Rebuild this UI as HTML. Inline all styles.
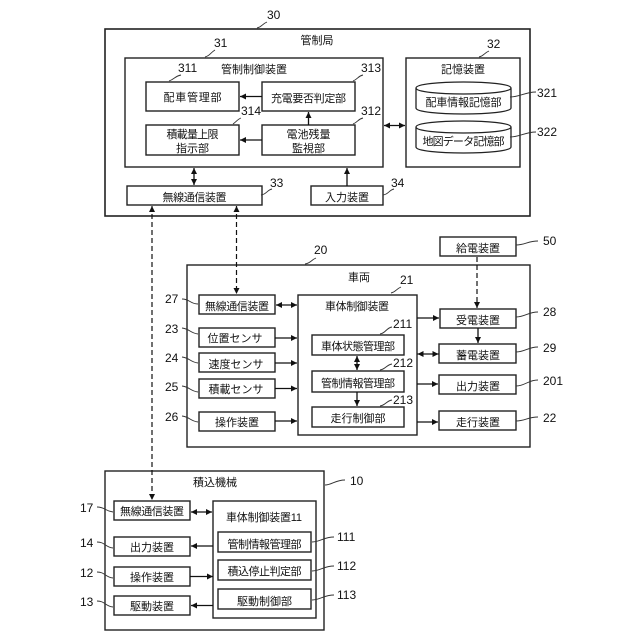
<!DOCTYPE html>
<html><head><meta charset="utf-8"><style>
html,body{margin:0;padding:0;background:#fff}
svg{display:block;filter:blur(.3px)}
rect{fill:#fff;stroke:#222;stroke-width:1.4}
text{font-family:"Liberation Sans","Noto Sans CJK JP",sans-serif;font-size:11px;fill:#111;text-anchor:middle}
.n{font-size:12px;text-anchor:start}
.l{fill:none;stroke:#333;stroke-width:.9}
.c{fill:none;stroke:#111;stroke-width:1.3}
.d{fill:none;stroke:#111;stroke-width:1.2;stroke-dasharray:5 3}
</style></head><body>
<svg width="640" height="640" viewBox="0 0 640 640" xmlns="http://www.w3.org/2000/svg">
<defs>
<marker id="a" markerWidth="7" markerHeight="7" refX="6" refY="3" orient="auto-start-reverse" markerUnits="userSpaceOnUse"><path d="M0 0L6 3L0 6Z" fill="#111"/></marker>
</defs>

<!-- 30 -->
<rect x="105" y="29" width="425" height="187" style="stroke-width:1.6"/>
<rect x="125" y="58" width="258" height="109"/>
<rect x="146" y="82" width="93" height="29"/>
<rect x="262" y="82" width="93" height="29"/>
<rect x="146" y="125" width="93" height="30"/>
<rect x="262" y="125" width="93" height="30"/>
<rect x="127" y="186" width="135" height="19"/>
<rect x="311" y="186" width="72" height="19"/>
<rect x="406" y="58" width="114" height="109"/>
<path d="M416 88V108C416 112 440 114 463.500 114C487 114 511 112 511 108V88C511 84 487 82 463.500 82C440 82 416 84 416 88C416 92 440 94 463.500 94C487 94 511 92 511 88" fill="#fff" stroke="#222" stroke-width="1.3"/>
<path d="M416 127V147C416 151 440 153 463.500 153C487 153 511 151 511 147V127C511 123 487 121 463.500 121C440 121 416 123 416 127C416 131 440 133 463.500 133C487 133 511 131 511 127" fill="#fff" stroke="#222" stroke-width="1.3"/>

<text x="317" y="44">管制局</text>
<text x="254" y="73">管制制御装置</text>
<text x="192.500" y="101" textLength="58">配車管理部</text>
<text x="308.500" y="102" textLength="75">充電要否判定部</text>
<text x="192.500" y="138" textLength="52">積載量上限</text>
<text x="192.500" y="152">指示部</text>
<text x="308.500" y="138">電池残量</text>
<text x="308.500" y="152">監視部</text>
<text x="194.500" y="201" textLength="64">無線通信装置</text>
<text x="347" y="201">入力装置</text>
<text x="463" y="73">記憶装置</text>
<text x="463.500" y="106" textLength="76">配車情報記憶部</text>
<text x="463.500" y="145" textLength="82">地図データ記憶部</text>

<path class="c" marker-end="url(#a)" d="M262 96.500H240"/>
<path class="c" marker-end="url(#a)" d="M262 140H240"/>
<path class="c" marker-end="url(#a)" d="M308.500 125V112"/>
<path class="c" marker-start="url(#a)" marker-end="url(#a)" d="M194 168V185"/>
<path class="c" marker-end="url(#a)" d="M347 186V168"/>
<path class="c" marker-start="url(#a)" marker-end="url(#a)" d="M384 125.500H405"/>

<!-- 20 -->
<rect x="187" y="265" width="343" height="182"/>
<rect x="298" y="295" width="119" height="140"/>
<rect x="199" y="295" width="76" height="19"/>
<rect x="199" y="328" width="76" height="19"/>
<rect x="199" y="353" width="76" height="19"/>
<rect x="199" y="379" width="76" height="19"/>
<rect x="199" y="412" width="76" height="19"/>
<rect x="312" y="335" width="92" height="20"/>
<rect x="312" y="371" width="92" height="21"/>
<rect x="312" y="407" width="92" height="20"/>
<rect x="440" y="237" width="76" height="19"/>
<rect x="440" y="309" width="76" height="19"/>
<rect x="439" y="344" width="77" height="19"/>
<rect x="439" y="375" width="77" height="19"/>
<rect x="439" y="411" width="77" height="19"/>

<text x="359" y="281">車両</text>
<text x="357" y="310" textLength="64">車体制御装置</text>
<text x="237" y="310" textLength="64">無線通信装置</text>
<text x="235" y="342">位置センサ</text>
<text x="236" y="368">速度センサ</text>
<text x="236" y="393">積載センサ</text>
<text x="237" y="426">操作装置</text>
<text x="358" y="350" textLength="74">車体状態管理部</text>
<text x="358" y="387" textLength="74">管制情報管理部</text>
<text x="358" y="422">走行制御部</text>
<text x="478" y="252">給電装置</text>
<text x="478" y="324">受電装置</text>
<text x="478" y="359">蓄電装置</text>
<text x="478" y="390">出力装置</text>
<text x="478" y="426">走行装置</text>

<path class="c" marker-start="url(#a)" marker-end="url(#a)" d="M276 305H297"/>
<path class="c" marker-end="url(#a)" d="M275 338H297"/>
<path class="c" marker-end="url(#a)" d="M275 363H297"/>
<path class="c" marker-end="url(#a)" d="M275 388.500H297"/>
<path class="c" marker-end="url(#a)" d="M275 421H297"/>
<path class="c" marker-start="url(#a)" marker-end="url(#a)" d="M357 356V370"/>
<path class="c" marker-end="url(#a)" d="M357 392V406"/>
<path class="c" marker-end="url(#a)" d="M417 318H439"/>
<path class="c" marker-start="url(#a)" marker-end="url(#a)" d="M417.500 354H438.500"/>
<path class="c" marker-end="url(#a)" d="M417 384H438"/>
<path class="c" marker-end="url(#a)" d="M417 422H438"/>
<path class="c" marker-end="url(#a)" d="M478 328V343"/>

<!-- 10 -->
<rect x="105" y="471" width="219" height="159"/>
<rect x="213" y="501" width="103" height="117"/>
<rect x="114" y="501" width="76" height="19"/>
<rect x="114" y="537" width="76" height="19"/>
<rect x="114" y="567" width="76" height="19"/>
<rect x="114" y="596" width="76" height="19"/>
<rect x="218" y="532" width="93" height="20"/>
<rect x="218" y="560" width="93" height="20"/>
<rect x="218" y="589" width="93" height="20"/>

<text x="215" y="486">積込機械</text>
<text x="264" y="521" textLength="76">車体制御装置11</text>
<text x="152" y="515" textLength="64">無線通信装置</text>
<text x="152" y="551">出力装置</text>
<text x="152" y="581">操作装置</text>
<text x="152" y="610">駆動装置</text>
<text x="264.500" y="548" textLength="74">管制情報管理部</text>
<text x="264.500" y="575" textLength="74">積込停止判定部</text>
<text x="264.500" y="605">駆動制御部</text>

<path class="c" marker-start="url(#a)" marker-end="url(#a)" d="M191 512H212"/>
<path class="c" marker-end="url(#a)" d="M213 546H191"/>
<path class="c" marker-end="url(#a)" d="M190 576.500H213"/>
<path class="c" marker-end="url(#a)" d="M213 605.500H191"/>

<!-- dashed -->
<path class="d" marker-start="url(#a)" marker-end="url(#a)" d="M152 206V500"/>
<path class="d" marker-start="url(#a)" marker-end="url(#a)" d="M236.500 206V294"/>
<path class="d" marker-end="url(#a)" d="M477 257V308"/>

<!-- leaders & numbers -->
<path class="l" d="M257 28C262 27 262 24 267 22"/><text class="n" x="267" y="19">30</text>
<path class="l" d="M205 57C210 56 210 53 215 50"/><text class="n" x="214" y="47">31</text>
<path class="l" d="M169 81C175 79 175 76 181 75"/><text class="n" x="178" y="72">311</text>
<path class="l" d="M353 81C358 79 358 76 363 75"/><text class="n" x="361" y="72">313</text>
<path class="l" d="M233 124C236 122 238 119 241 118"/><text class="n" x="241" y="115">314</text>
<path class="l" d="M353 124C358 122 358 119 363 118"/><text class="n" x="361" y="115">312</text>
<path class="l" d="M261 195C267 194 267 190 272 189"/><text class="n" x="270" y="187">33</text>
<path class="l" d="M383 195C389 194 389 190 394 189"/><text class="n" x="391" y="187">34</text>
<path class="l" d="M479 57C484 56 484 53 489 51"/><text class="n" x="487" y="48">32</text>
<path class="l" d="M510 97C520 97 525 92 536 92"/><text class="n" x="537" y="97">321</text>
<path class="l" d="M510 137C520 137 525 132 536 132"/><text class="n" x="537" y="136">322</text>
<path class="l" d="M305 264C311 263 311 260 316 258"/><text class="n" x="314" y="254">20</text>
<path class="l" d="M391 293C396 292 396 289 401 287"/><text class="n" x="400" y="284">21</text>
<path class="l" d="M380 334C386 333 386 328 392 327"/><text class="n" x="393" y="328">211</text>
<path class="l" d="M380 370C386 369 386 365 392 364"/><text class="n" x="393" y="367">212</text>
<path class="l" d="M380 406C386 405 386 401 392 400"/><text class="n" x="393" y="404">213</text>
<path class="l" d="M182 299C190 299 190 304 198 304"/><text class="n" x="165" y="303">27</text>
<path class="l" d="M182 328C190 329 190 333 198 334"/><text class="n" x="165" y="333">23</text>
<path class="l" d="M182 357C190 358 190 362 198 363"/><text class="n" x="165" y="362">24</text>
<path class="l" d="M182 386C190 387 190 391 198 392"/><text class="n" x="165" y="391">25</text>
<path class="l" d="M182 416C190 417 190 421 198 422"/><text class="n" x="165" y="421">26</text>
<path class="l" d="M516 245C525 245 528 241 538 241"/><text class="n" x="543" y="245">50</text>
<path class="l" d="M516 317C525 317 528 312 538 312"/><text class="n" x="543" y="316">28</text>
<path class="l" d="M516 352C525 352 528 347 538 347"/><text class="n" x="543" y="352">29</text>
<path class="l" d="M516 386C525 386 528 380 538 380"/><text class="n" x="543" y="385">201</text>
<path class="l" d="M516 421C525 421 528 417 538 417"/><text class="n" x="543" y="422">22</text>
<path class="l" d="M325 485C332 485 335 480 345 480"/><text class="n" x="350" y="485">10</text>
<path class="l" d="M97 507C105 507 105 511 113 512"/><text class="n" x="80" y="512">17</text>
<path class="l" d="M97 542C105 542 105 547 113 548"/><text class="n" x="80" y="547">14</text>
<path class="l" d="M97 572C105 572 105 577 113 578"/><text class="n" x="80" y="577">12</text>
<path class="l" d="M97 601C105 601 105 606 113 607"/><text class="n" x="80" y="606">13</text>
<path class="l" d="M312 542C320 542 324 537 334 537"/><text class="n" x="337" y="541">111</text>
<path class="l" d="M312 571C320 571 324 566 334 566"/><text class="n" x="337" y="570">112</text>
<path class="l" d="M312 600C320 600 324 595 334 595"/><text class="n" x="337" y="599">113</text>
</svg>
</body></html>
